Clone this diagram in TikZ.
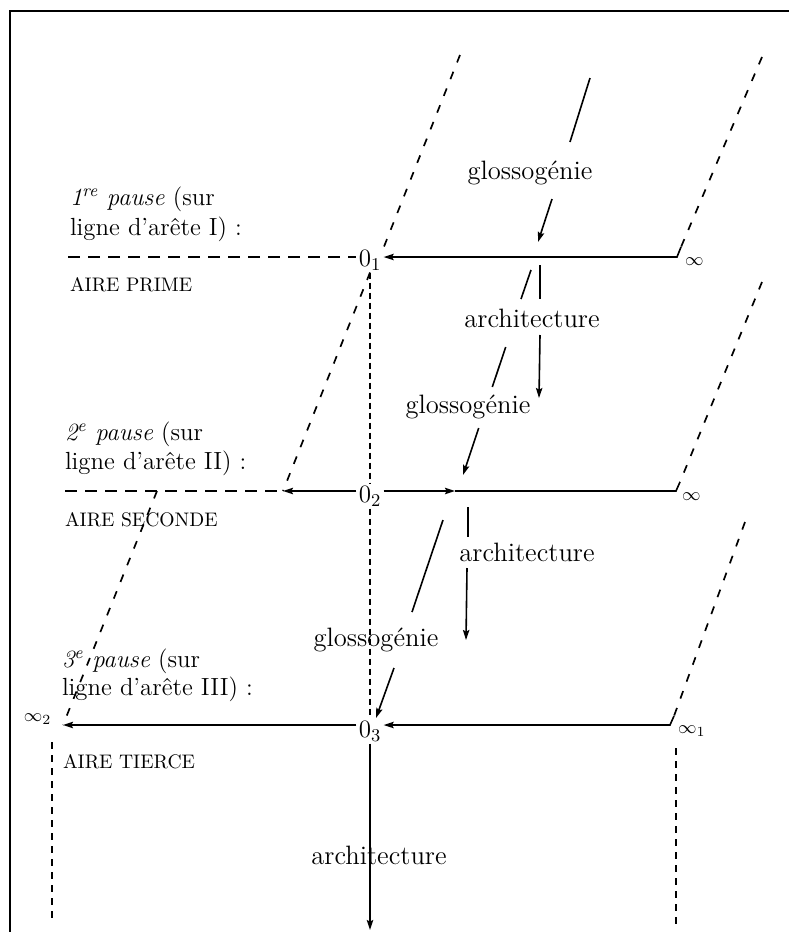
\documentclass[tikz,border=0pt]{standalone}
\usepackage{fontspec}
\usetikzlibrary{arrows.meta}
\begin{document}
\begin{tikzpicture}[x=0.5pt,y=-0.5pt,
  every node/.style={inner sep=0pt, outer sep=0pt},
  ln/.style={line width=0.8pt},
  arr/.style={line width=0.8pt,-{Stealth[length=5pt,width=3.2pt,inset=0.8pt]}},
  slant/.style={line width=0.85pt,dash pattern=on 4pt off 5pt},
  hdash/.style={line width=0.8pt,dash pattern=on 6pt off 4pt},
  vdash/.style={line width=0.8pt,dash pattern=on 3pt off 2pt},
  side/.style={line width=0.9pt,dash pattern=on 3.5pt off 3pt},
  lbl/.style={font=\fontsize{13.3}{15}\selectfont},
  pz/.style={font=\fontsize{12.4}{14}\selectfont, anchor=base west},
  aire/.style={font=\fontsize{9.8}{11}\selectfont, anchor=base west},
  onode/.style={font=\fontsize{12.5}{14}\selectfont, outer sep=1.2pt},
  inf/.style={font=\fontsize{9.5}{11}\selectfont, anchor=west},
]
\useasboundingbox (0,0) rectangle (789,932);
% frame
\draw[line width=1pt] (9.5,932) -- (9.5,11) -- (789,11);

% left texts
\node[pz] (p1a) at (70,205) {\textit{1\textsuperscript{re} pause} (sur};
\node[pz] (p1b) at (70,235) {ligne d'arête I) :};
\node[aire] (r1) at (70,291) {AIRE PRIME};
\node[pz] (p2a) at (65,440) {\textit{2\textsuperscript{e} pause} (sur};
\node[pz] (p2b) at (65,469) {ligne d'arête II) :};
\node[aire] (r2) at (65,526) {AIRE SECONDE};
\node[pz] (p3a) at (62,667) {\textit{3\textsuperscript{e} pause} (sur};
\node[pz] (p3b) at (62,695) {ligne d'arête III) :};
\node[aire] (r3) at (63,768) {AIRE TIERCE};

% O nodes
\node[onode] (o1) at (370,260) {0$_1$};
\node[onode] (o2) at (370,496) {0$_2$};
\node[onode] (o3) at (370,731) {0$_3$};

% infinity labels
\node[inf] (i1) at (685,262) {$\infty$};
\node[inf] (i2) at (682,497) {$\infty$};
\node[inf] (i3) at (678,731) {$\infty_1$};
\node[inf] (i4) at (24,719) {$\infty_2$};

% middle labels
\node[lbl] (g1) at (530,173) {glossogénie};
\node[lbl] (a1) at (532,318) {architecture};
\node[lbl] (g2) at (468,407) {glossogénie};
\node[lbl] (a2) at (527,552) {architecture};
\node[lbl] (g3) at (376,640) {glossogénie};
\node[lbl] (a3) at (379,855) {architecture};

% coordinates
\coordinate (l1L) at (68,257);
\coordinate (h1a) at (681,247);
\coordinate (h1) at (677,257);
\coordinate (l2L) at (65,491);
\coordinate (l2a) at (283,491);
\coordinate (h2a) at (680,482);
\coordinate (h2) at (676,491);
\coordinate (m2) at (455,491);
\coordinate (h3a) at (674,716);
\coordinate (h3) at (670,725);
\coordinate (l3a) at (63,725);
\coordinate (bot) at (366,930);
\coordinate (cA) at (460,55);
\coordinate (cC) at (157,491);
\coordinate (cD) at (762,57);
\coordinate (cE) at (762,282);
\coordinate (cF) at (745,522);
\coordinate (sL1) at (52,742);
\coordinate (sL2) at (52,922);
\coordinate (sR1) at (676,748);
\coordinate (sR2) at (676,926);

% level 1
\draw[hdash] (l1L) -- (o1.west |- l1L);
\draw[arr] (h1a) -- (h1) -- (o1.east |- h1);
% level 2
\draw[hdash] (l2L) -- (l2a);
\draw[arr] (o2.west |- l2a) -- (l2a);
\draw[ln] (h2a) -- (h2) -- (m2);
\draw[arr] (o2.east |- m2) -- (m2);
% level 3
\draw[arr] (h3a) -- (h3) -- (o3.east |- h3);
\draw[arr] (o3.west |- h3) -- (l3a);

% vertical axis
\draw[vdash] (o1.south) -- (o2.north);
\draw[vdash] (o2.south) -- (o3.north);
\draw[arr] (o3.south) -- (o3.south |- bot);

% slanted dashed edges
\draw[slant] (cA) -- (o1.north east);
\draw[slant] (o1.south) -- (l2a);
\draw[slant] (cC) -- (l3a);
\draw[slant] (cD) -- (h1a);
\draw[slant] (cE) -- (h2a);
\draw[slant] (cF) -- (h3a);

% side verticals
\draw[side] (sL1) -- (sL2);
\draw[side] (sR1) -- (sR2);

% glossogenie / architecture chains
\coordinate (g1s) at (590,78);  \coordinate (g1e) at (570,142);
\coordinate (g1u) at (552,199); \coordinate (g1t) at (538,242);
\draw[ln] (g1s) -- (g1e);
\draw[arr] (g1u) -- (g1t);

\coordinate (a1s) at (540,265); \coordinate (a1e) at (540,299);
\coordinate (a1u) at (540,335); \coordinate (a1t) at (539,398);
\draw[ln] (a1s) -- (a1e);
\draw[arr] (a1u) -- (a1t);

\coordinate (g2s) at (531,270);   \coordinate (g2e) at (521,299);
\coordinate (g2m) at (505.7,347); \coordinate (g2n) at (492.3,387);
\coordinate (g2u) at (478.7,428); \coordinate (g2t) at (463,475);
\draw[ln] (g2s) -- (g2e);
\draw[ln] (g2m) -- (g2n);
\draw[arr] (g2u) -- (g2t);

\coordinate (a2s) at (468,507); \coordinate (a2e) at (468,537);
\coordinate (a2u) at (467,568); \coordinate (a2t) at (466,640);
\draw[ln] (a2s) -- (a2e);
\draw[arr] (a2u) -- (a2t);

\coordinate (g3s) at (443,520); \coordinate (g3e) at (412,612);
\coordinate (g3u) at (394,668); \coordinate (g3t) at (376,718);
\draw[ln] (g3s) -- (g3e);
\draw[arr] (g3u) -- (g3t);
\end{tikzpicture}
\end{document}
